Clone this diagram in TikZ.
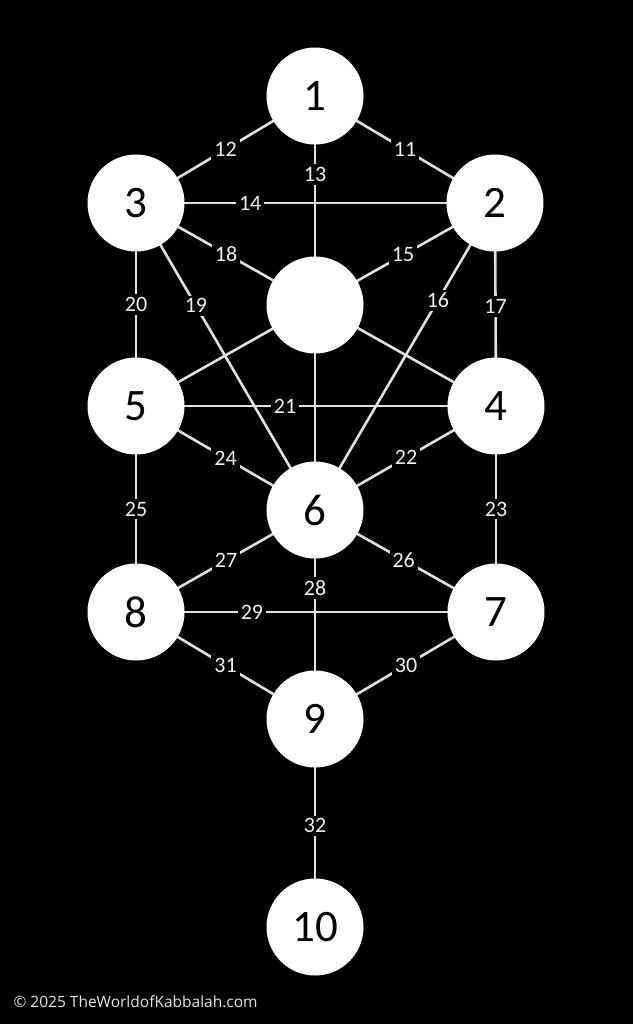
\documentclass[tikz,border=0pt]{standalone}
\usepackage{fontspec}
\setmainfont{Carlito}
\newfontfamily\copyfont{Open Sans}
\usetikzlibrary{backgrounds}
\begin{document}
\begin{tikzpicture}[x=1pt,y=-1pt,
  sef/.style={circle,fill=white,minimum size=97pt,inner sep=0pt,font=\fontsize{45}{45}\selectfont,text=black},
  path/.style={draw=white!88!black,line width=2.6pt},
  lab/.style={fill=black,text=white!94!black,inner sep=3pt,font=\fontsize{22}{22}\selectfont}]
\useasboundingbox (0,0) rectangle (633,1024);
% sefirot
\node[sef] (n1) at (315,96) {1};
\node[sef] (n2) at (495,203) {2};
\node[sef] (n3) at (136,203) {3};
\node[sef] (nd) at (315,305) {};
\node[sef] (n4) at (496,406) {4};
\node[sef] (n5) at (136,406) {5};
\node[sef] (n6) at (315,510) {6};
\node[sef] (n7) at (496,612) {7};
\node[sef] (n8) at (136,612) {8};
\node[sef] (n9) at (315,719) {9};
\node[sef] (n10) at (315,927) {10};
\node[anchor=west,text=white!90!black,font=\copyfont\fontsize{15.5}{15.5}\selectfont] (copy) at (10,1002) {\textcopyright{} 2025 TheWorldofKabbalah.com};
\begin{pgfonlayer}{background}
\fill[black] (0,0) rectangle (633,1024);
\draw[path] (n1.center) -- node[lab,pos=0.5] {12} (n3.center);
\draw[path] (n1.center) -- node[lab,pos=0.5] {11} (n2.center);
\draw[path] (n1.center) -- node[lab,pos=0.19] {13} (n6.center);
\draw[path] (n3.center) -- node[lab,pos=0.318] {14} (n2.center);
\draw[path] (n3.center) -- node[lab,pos=0.25] {18} (n4.center);
\draw[path] (n2.center) -- node[lab,pos=0.256] {15} (n5.center);
\draw[path] (n3.center) -- node[lab,pos=0.5] {20} (n5.center);
\draw[path] (n3.center) -- node[lab,pos=0.335] {19} (n6.center);
\draw[path] (n2.center) -- node[lab,pos=0.317] {16} (n6.center);
\draw[path] (n2.center) -- node[lab,pos=0.51] {17} (n4.center);
\draw[path] (n5.center) -- node[lab,pos=0.414] {21} (n4.center);
\draw[path] (n5.center) -- node[lab,pos=0.5] {24} (n6.center);
\draw[path] (n4.center) -- node[lab,pos=0.497] {22} (n6.center);
\draw[path] (n5.center) -- node[lab,pos=0.5] {25} (n8.center);
\draw[path] (n4.center) -- node[lab,pos=0.5] {23} (n7.center);
\draw[path] (n6.center) -- node[lab,pos=0.497] {27} (n8.center);
\draw[path] (n6.center) -- node[lab,pos=0.49] {26} (n7.center);
\draw[path] (n6.center) -- node[lab,pos=0.373] {28} (n9.center);
\draw[path] (n8.center) -- node[lab,pos=0.322] {29} (n7.center);
\draw[path] (n8.center) -- node[lab,pos=0.5] {31} (n9.center);
\draw[path] (n9.center) -- node[lab,pos=0.503] {30} (n7.center);
\draw[path] (n9.center) -- node[lab,pos=0.514] {32} (n10.center);
\end{pgfonlayer}
\end{tikzpicture}
\end{document}
